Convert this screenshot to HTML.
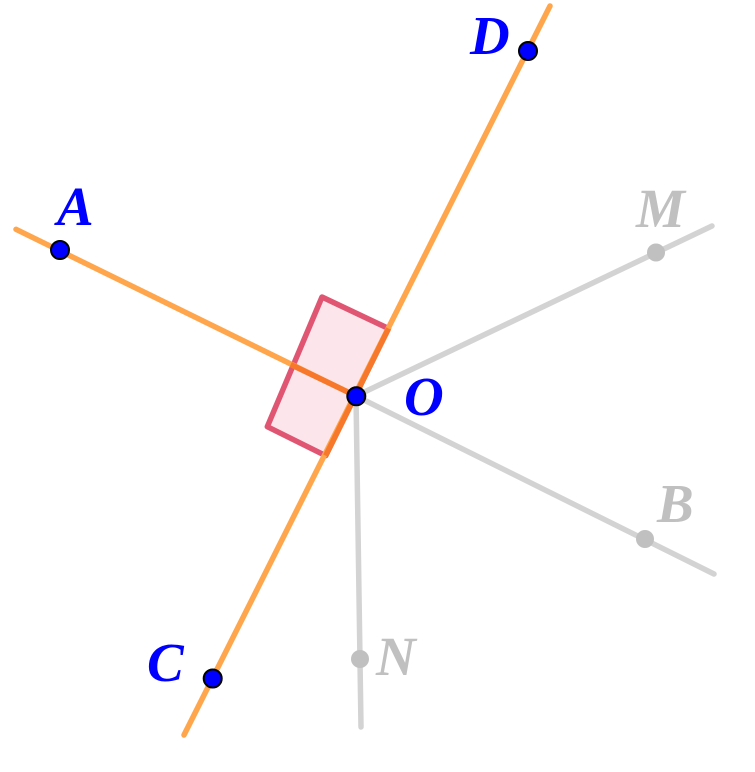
<!DOCTYPE html>
<html>
<head>
<meta charset="utf-8">
<style>
html,body{margin:0;padding:0;background:#fff;}
svg{display:block;}
text{font-family:"Liberation Serif",serif;font-weight:bold;font-style:italic;font-size:55px;}
</style>
</head>
<body>
<svg width="755" height="772" viewBox="0 0 755 772" xmlns="http://www.w3.org/2000/svg">
  <!-- gray rays -->
  <g stroke="#d3d3d3" stroke-width="5.5" stroke-linecap="round" fill="none">
    <line x1="356" y1="396" x2="712" y2="226"/>
    <line x1="356" y1="396" x2="714" y2="574"/>
    <line x1="356" y1="396" x2="361" y2="727"/>
  </g>
  <!-- rectangle (right-angle marker) -->
  <polygon points="322,297 388.5,328.5 325.7,455.7 267.3,426.7" fill="#fce6ec" stroke="#e05572" stroke-width="5.5" stroke-linejoin="round"/>
  <!-- orange lines -->
  <g stroke="#ffa64d" stroke-width="5.5" stroke-linecap="round" fill="none">
    <line x1="16" y1="229.3" x2="356" y2="396"/>
    <line x1="184" y1="735" x2="550" y2="6"/>
  </g>
  <!-- overlap segments -->
  <g stroke="#f7782a" stroke-width="5.5" stroke-linecap="butt" fill="none">
    <line x1="290.7" y1="364.5" x2="356" y2="396"/>
    <line x1="388.5" y1="328.5" x2="325.7" y2="455.7"/>
  </g>
  <!-- gray points -->
  <g fill="#c0c0c0">
    <circle cx="656" cy="252.5" r="9"/>
    <circle cx="645" cy="539" r="9"/>
    <circle cx="360" cy="659" r="9"/>
  </g>
  <!-- blue points -->
  <g fill="#0000ff" stroke="#000" stroke-width="2">
    <circle cx="60" cy="250" r="9"/>
    <circle cx="528" cy="51" r="9"/>
    <circle cx="212.7" cy="678.5" r="9"/>
    <circle cx="356.3" cy="396.3" r="9"/>
  </g>
  <!-- labels -->
  <g fill="#0000ff">
    <text x="470" y="54">D</text>
    <text x="57" y="225">A</text>
    <text x="404" y="415">O</text>
    <text x="147" y="681">C</text>
  </g>
  <g fill="#c0c0c0">
    <text x="636" y="227">M</text>
    <text x="657" y="522">B</text>
    <text x="376" y="675">N</text>
  </g>
</svg>
</body>
</html>
